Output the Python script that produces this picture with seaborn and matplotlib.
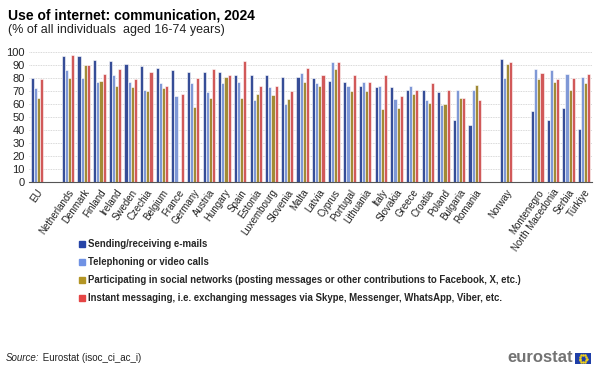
import numpy as np
import pandas as pd
import matplotlib.pyplot as plt
import seaborn as sns
from matplotlib.lines import Line2D
from matplotlib.patches import Rectangle

# Data
countries = ["EU", "Netherlands", "Denmark", "Finland", "Ireland", "Sweden", "Czechia",
             "Belgium", "France", "Germany", "Austria", "Hungary", "Spain", "Estonia",
             "Luxembourg", "Slovenia", "Malta", "Latvia", "Cyprus", "Portugal", "Lithuania",
             "Italy", "Slovakia", "Greece", "Croatia", "Poland", "Bulgaria", "Romania",
             "Norway", "Montenegro", "North Macedonia", "Serbia", "Türkiye"]
emails = [80, 97, 97, 94, 93, 91, 89, 88, 86, 85, 85, 85, 82, 82, 82, 81, 81, 80, 78, 77,
          74, 73, 73, 71, 71, 69, 48, 44, 95, 55, 48, 57, 41]
calls = [72, 86, 80, 77, 82, 77, 71, 76, 66, 76, 69, 76, 77, 63, 73, 60, 84, 76, 92, 74,
         77, 74, 64, 74, 63, 59, 71, 71, 80, 87, 86, 83, 81]
social = [65, 80, 90, 78, 74, 73, 70, 72, np.nan, 58, 65, 81, 65, 68, 67, 64, 77, 74, 87, 70,
          70, 56, 57, 68, 61, 60, 65, 75, 91, 79, 77, 71, 76]
messaging = [79, 98, 90, 83, 87, 79, 85, 74, 68, 80, 87, 82, 93, 74, 74, 70, 88, 82, 92, 82,
             77, 82, 66, 71, 76, 71, 65, 63, 92, 84, 79, 80, 83]

series_names = [
    "Sending/receiving e-mails",
    "Telephoning or video calls",
    "Participating in social networks (posting messages or other contributions to Facebook, X, etc.)",
    "Instant messaging, i.e. exchanging messages via Skype, Messenger, WhatsApp, Viber, etc.",
]
colors = ["#2644A7", "#7092E4", "#B39524", "#E54545"]

# category order with empty slots between the groups
order = (["EU", "gap1"] + countries[1:28] + ["gap2", "Norway", "gap3"] + countries[29:])
tick_labels = ["" if c.startswith("gap") else c for c in order]

df = pd.DataFrame({"country": countries, series_names[0]: emails, series_names[1]: calls,
                   series_names[2]: social, series_names[3]: messaging})
long = df.melt(id_vars="country", var_name="series", value_name="value").dropna()

sns.set_style("white")
plt.rcParams["font.family"] = ["Liberation Sans", "DejaVu Sans"]

fig = plt.figure(figsize=(6, 3.7), dpi=100)
ax = fig.add_axes([29 / 600, 1 - 182 / 370, 563 / 600, 130 / 370])

sns.barplot(data=long, x="country", y="value", hue="series", order=order,
            hue_order=series_names, palette=colors, width=0.8, edgecolor="white",
            linewidth=0.4, ax=ax, legend=False)

ax.set_xlim(-0.5, len(order) - 0.5)
ax.set_ylim(0, 100)
ax.set_yticks(range(0, 101, 10))
ax.tick_params(axis="y", length=0, labelsize=8, labelcolor="#222222", pad=3)
ax.grid(axis="y", color="#cccccc", linestyle=(0, (1, 1)), linewidth=0.6)
ax.set_axisbelow(True)

ax.set_xticks(range(len(order)))
ax.set_xticklabels(tick_labels, rotation=55, ha="right", rotation_mode="anchor",
                   fontsize=7, color="#222222")
ax.set_xticks(np.arange(-0.5, len(order)), minor=True)
ax.tick_params(axis="x", which="major", length=0, pad=4)
ax.tick_params(axis="x", which="minor", length=3, color="#555555", width=0.8)
ax.set_xlabel("")
ax.set_ylabel("")
for s in ["top", "right", "left"]:
    ax.spines[s].set_visible(False)
ax.spines["bottom"].set_color("#555555")
ax.spines["bottom"].set_linewidth(0.8)

# titles
fig.text(8 / 600, 1 - 9 / 370, "Use of internet: communication, 2024", fontsize=10,
         fontweight="bold", va="top", ha="left", color="#000000")
fig.text(8 / 600, 1 - 24 / 370, "(% of all individuals  aged 16-74 years)", fontsize=9,
         va="top", ha="left", color="#222222")

# legend
handles = [Line2D([0], [0], marker="s", linestyle="", markersize=4, color=c) for c in colors]
fig.legend(handles, series_names, loc="upper left", bbox_to_anchor=(79 / 600, 1 - 239 / 370),
           frameon=False, prop={"size": 6.9, "weight": "bold"}, handlelength=0.6,
           handletextpad=0.35, labelspacing=0.85, borderaxespad=0, borderpad=0)

# source
src = fig.text(6 / 600, 1 - 358 / 370, "Source:", fontsize=7, style="italic", va="center",
               ha="left", color="#222222")
ax.annotate(" Eurostat (isoc_ci_ac_i)", xy=(1, 0.5), xycoords=src, fontsize=7,
            va="center", ha="left", color="#222222", annotation_clip=False)

# eurostat logo
fig.text(573 / 600, 1 - 358 / 370, "eurostat", fontsize=12, fontweight="bold",
         color="#737373", va="center", ha="right")
fig.patches.append(Rectangle((575 / 600, 1 - 364 / 370), 16 / 600, 11 / 370,
                             transform=fig.transFigure, facecolor="#1f3fa8",
                             edgecolor="none"))
ang = np.linspace(0, 2 * np.pi, 12, endpoint=False)
fig.add_artist(Line2D(583 / 600 + 3.5 / 600 * np.cos(ang),
                      1 - 358.5 / 370 + 3.5 / 370 * np.sin(ang),
                      transform=fig.transFigure, marker="o", markersize=0.8,
                      linestyle="", color="#f2d21b"))

fig.savefig("out.png", dpi=100)
